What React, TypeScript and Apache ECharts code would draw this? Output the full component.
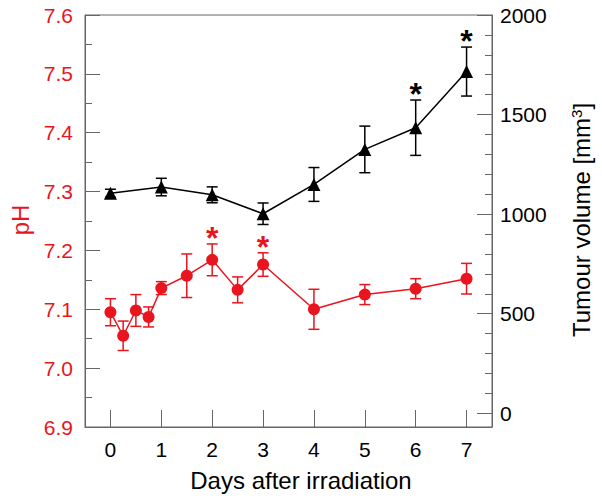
import React, { useEffect, useRef } from "react";
import * as echarts from "echarts";

const phDays = [0, 0.25, 0.5, 0.75, 1, 1.5, 2, 2.5, 3, 4, 5, 6, 7];
const phValues = [7.095, 7.055, 7.098, 7.087, 7.136, 7.157, 7.184, 7.133, 7.176, 7.1, 7.125, 7.135, 7.152];
const phErrors = [0.023, 0.025, 0.027, 0.017, 0.011, 0.037, 0.027, 0.022, 0.02, 0.034, 0.017, 0.017, 0.026];
const phStarDays = [2, 3];

const volDays = [0, 1, 2, 3, 4, 5, 6, 7];
const volValues = [1105, 1136, 1097, 1002, 1149, 1325, 1434, 1716];
const volErrors = [20, 44, 40, 54, 85, 117, 139, 123];
const volStarDays = [6, 7];

const xTicks = [0, 1, 2, 3, 4, 5, 6, 7];
const volMajorTicks = [0, 500, 1000, 1500, 2000];
const volMinorTicks = [100, 200, 300, 400, 600, 700, 800, 900, 1100, 1200, 1300, 1400, 1600, 1700, 1800, 1900];

const RED = "#e8141e";
const BLACK = "#000000";
const AXIS = "#666666";
const FONT = "'Liberation Sans', Arial, sans-serif";

function errorBarSeries(days: number[], vals: number[], errs: number[], color: string, yAxisIndex: number) {
  return {
    type: "custom",
    yAxisIndex,
    z: 3,
    data: days.map((d, i) => [d, vals[i], errs[i]]),
    renderItem: (params: any, api: any) => {
      const x = api.value(0);
      const y = api.value(1);
      const e = api.value(2);
      const top = api.coord([x, y + e]);
      const bot = api.coord([x, y - e]);
      const hw = 5.5;
      const style = { stroke: color, lineWidth: 1.5 };
      return {
        type: "group",
        children: [
          { type: "line", shape: { x1: top[0], y1: top[1], x2: bot[0], y2: bot[1] }, style },
          { type: "line", shape: { x1: top[0] - hw, y1: top[1], x2: top[0] + hw, y2: top[1] }, style },
          { type: "line", shape: { x1: bot[0] - hw, y1: bot[1], x2: bot[0] + hw, y2: bot[1] }, style },
        ],
      };
    },
  };
}

function starSeries(starDays: number[], days: number[], vals: number[], errs: number[], color: string, yAxisIndex: number) {
  return {
    type: "custom",
    yAxisIndex,
    z: 5,
    data: starDays.map((d) => {
      const i = days.indexOf(d);
      return [d, vals[i] + errs[i]];
    }),
    renderItem: (params: any, api: any) => {
      const p = api.coord([api.value(0), api.value(1)]);
      return {
        type: "text",
        x: p[0],
        y: p[1] - 6,
        style: {
          text: "*",
          fill: color,
          fontSize: 32,
          fontWeight: "bold",
          fontFamily: FONT,
          align: "center",
          verticalAlign: "middle",
        },
      };
    },
  };
}

export default function App() {
  const ref = useRef<HTMLDivElement>(null);
  useEffect(() => {
    if (!ref.current) return;
    const chart = echarts.init(ref.current, undefined, { renderer: "svg" });
    const yMinVol = -69;
    const yMaxVol = 2000;
    chart.setOption({
      animation: false,
      backgroundColor: "#ffffff",
      textStyle: { fontFamily: FONT },
      grid: {
        left: 85,
        right: 110,
        top: 15,
        bottom: 73,
        show: true,
        borderColor: AXIS,
        borderWidth: 1,
        backgroundColor: "transparent",
      },
      xAxis: {
        type: "value",
        min: -0.5,
        max: 7.5,
        axisLine: { show: true, onZero: false, lineStyle: { color: AXIS, width: 1 } },
        axisTick: { show: true, inside: true, length: 17, customValues: xTicks, lineStyle: { color: AXIS, width: 1 } },
        axisLabel: { customValues: xTicks, fontSize: 21, color: BLACK, margin: 12, fontFamily: FONT },
        splitLine: { show: false },
      },
      yAxis: [
        {
          type: "value",
          position: "left",
          min: 6.9,
          max: 7.6,
          interval: 0.1,
          axisLine: { show: true, onZero: false, lineStyle: { color: AXIS, width: 1 } },
          axisTick: { show: true, inside: true, length: 15, lineStyle: { color: AXIS, width: 1 } },
          minorTick: { show: true, splitNumber: 2, length: 7, lineStyle: { color: AXIS, width: 1 } },
          axisLabel: {
            fontSize: 21,
            color: RED,
            margin: 12,
            fontFamily: FONT,
            formatter: (v: number) => v.toFixed(1),
          },
          splitLine: { show: false },
        },
        {
          type: "value",
          position: "right",
          min: yMinVol,
          max: yMaxVol,
          axisLine: { show: true, onZero: false, lineStyle: { color: AXIS, width: 1 } },
          axisTick: { show: true, inside: true, length: 15, customValues: volMajorTicks, lineStyle: { color: AXIS, width: 1 } },
          axisLabel: {
            customValues: volMajorTicks,
            fontSize: 21,
            color: BLACK,
            margin: 8,
            fontFamily: FONT,
            formatter: (v: number) => String(Math.round(v)),
          },
          splitLine: { show: false },
        },
        {
          type: "value",
          position: "right",
          min: yMinVol,
          max: yMaxVol,
          axisLine: { show: false, onZero: false },
          axisTick: { show: true, inside: true, length: 7, customValues: volMinorTicks, lineStyle: { color: AXIS, width: 1 } },
          axisLabel: { show: false },
          splitLine: { show: false },
        },
      ],
      graphic: [
        {
          type: "text",
          x: 20,
          y: 220,
          rotation: Math.PI / 2,
          style: { text: "pH", fill: RED, fontSize: 24, fontFamily: FONT, align: "center", verticalAlign: "middle" },
        },
        {
          type: "text",
          x: 581,
          y: 220,
          rotation: Math.PI / 2,
          style: {
            text: "Tumour volume [mm{sup|3}]",
            fill: BLACK,
            fontSize: 24,
            fontFamily: FONT,
            align: "center",
            verticalAlign: "middle",
            rich: { sup: { fontSize: 15, fill: BLACK, fontFamily: FONT, verticalAlign: "top" } },
          },
        },
        {
          type: "text",
          x: 301,
          y: 480,
          style: {
            text: "Days after irradiation",
            fill: BLACK,
            fontSize: 24,
            fontFamily: FONT,
            align: "center",
            verticalAlign: "middle",
          },
        },
      ],
      series: [
        errorBarSeries(phDays, phValues, phErrors, RED, 0),
        {
          type: "line",
          yAxisIndex: 0,
          z: 4,
          data: phDays.map((d, i) => [d, phValues[i]]),
          symbol: "circle",
          symbolSize: 12,
          itemStyle: { color: RED },
          lineStyle: { color: RED, width: 1.5 },
        },
        starSeries(phStarDays, phDays, phValues, phErrors, RED, 0),
        errorBarSeries(volDays, volValues, volErrors, BLACK, 1),
        {
          type: "line",
          yAxisIndex: 1,
          z: 4,
          data: volDays.map((d, i) => [d, volValues[i]]),
          symbol: "triangle",
          symbolSize: 13,
          itemStyle: { color: BLACK },
          lineStyle: { color: BLACK, width: 1.5 },
        },
        starSeries(volStarDays, volDays, volValues, volErrors, BLACK, 1),
      ],
    });
    return () => chart.dispose();
  }, []);
  return <div ref={ref} style={{ position: "fixed", left: 0, top: 0, width: 602, height: 500 }} />;
}
